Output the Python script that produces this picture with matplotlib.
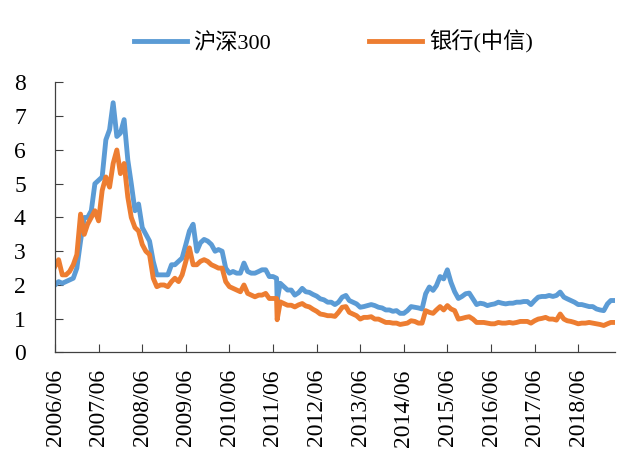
import matplotlib
matplotlib.use("Agg")
import matplotlib.pyplot as plt
import pandas as pd

plt.rcParams["font.family"] = ["Liberation Serif", "Noto Sans CJK SC", "DejaVu Sans"]

# Monthly sampling, June 2006 .. April 2019
months = pd.date_range("2006-06-01", "2019-04-01", freq="MS")

hs300 = [
    2.0, 2.1, 2.05, 2.1, 2.15, 2.2, 2.5,
    3.3, 4.0, 4.0, 4.2, 5.0, 5.1, 5.2, 6.3, 6.6, 7.4, 6.4, 6.5,
    6.9, 5.7, 5.0, 4.2, 4.4, 3.7, 3.5, 3.3, 2.7, 2.3, 2.3, 2.3,
    2.3, 2.6, 2.6, 2.7, 2.8, 3.2, 3.6, 3.8, 3.0, 3.25, 3.35, 3.3,
    3.2, 3.0, 3.05, 3.0, 2.5, 2.35, 2.4, 2.35, 2.35, 2.65, 2.4, 2.35,
    2.35, 2.4, 2.45, 2.45, 2.25, 2.25, 2.2, 2.05, 1.95, 1.85, 1.85, 1.7,
    1.77, 1.9, 1.8, 1.78, 1.72, 1.67, 1.59, 1.56, 1.49, 1.49, 1.42, 1.49,
    1.64, 1.69, 1.54, 1.49, 1.44, 1.34, 1.36, 1.39, 1.42, 1.39, 1.34, 1.32,
    1.26, 1.26, 1.22, 1.24, 1.16, 1.16, 1.24, 1.36, 1.34, 1.32, 1.29, 1.74,
    1.94, 1.84, 1.98, 2.25, 2.18, 2.45, 2.08, 1.8, 1.6, 1.66, 1.74, 1.76,
    1.59, 1.42, 1.46, 1.44, 1.39, 1.42, 1.44, 1.49, 1.46, 1.44, 1.46, 1.46,
    1.49, 1.49, 1.51, 1.51, 1.42, 1.54, 1.64, 1.66, 1.66, 1.69, 1.66, 1.69,
    1.79, 1.64, 1.59, 1.54, 1.49, 1.42, 1.42, 1.39, 1.36, 1.36, 1.29, 1.26,
    1.24, 1.44, 1.54, 1.54,
]

banks = [
    2.55, 2.75, 2.3, 2.3, 2.4, 2.6, 2.9,
    4.1, 3.5, 3.8, 4.0, 4.2, 3.9, 4.8, 5.2, 4.9, 5.6, 6.0, 5.3,
    5.6, 4.6, 4.0, 3.7, 3.6, 3.2, 3.0, 2.9, 2.2, 1.95, 2.0, 2.0,
    1.95, 2.1, 2.2, 2.1, 2.3, 2.7, 3.1, 2.6, 2.6, 2.7, 2.75, 2.7,
    2.6, 2.55, 2.5, 2.5, 2.1, 1.95, 1.9, 1.85, 1.8, 2.0, 1.75, 1.7,
    1.65, 1.7, 1.7, 1.75, 1.6, 1.6, 1.6, 1.5, 1.45, 1.4, 1.4, 1.35,
    1.41, 1.45, 1.38, 1.35, 1.28, 1.22, 1.14, 1.12, 1.09, 1.09, 1.07, 1.19,
    1.34, 1.36, 1.19, 1.14, 1.09, 0.99, 1.04, 1.04, 1.06, 0.99, 0.99, 0.94,
    0.89, 0.89, 0.87, 0.87, 0.83, 0.85, 0.87, 0.94, 0.92, 0.87, 0.87, 1.24,
    1.19, 1.16, 1.26, 1.36, 1.26, 1.39, 1.29, 1.24, 0.99, 1.01, 1.04, 1.06,
    0.99, 0.89, 0.89, 0.89, 0.87, 0.85, 0.85, 0.89, 0.87, 0.87, 0.89, 0.87,
    0.89, 0.92, 0.92, 0.92, 0.87, 0.94, 0.99, 1.01, 1.04, 0.99, 0.99, 0.96,
    1.14, 0.99, 0.94, 0.92, 0.89, 0.85, 0.87, 0.87, 0.89, 0.87, 0.85, 0.83,
    0.80, 0.85, 0.89, 0.89,
]

# One-day dip in July 2011
dip_date = pd.Timestamp("2011-07-06")
dip_hs300 = 1.55
dip_banks = 0.97

series_names = ["沪深300", "银行(中信)"]
tick_years = list(range(2006, 2019))

df = pd.DataFrame({"hs300": hs300, "banks": banks}, index=months)
df.loc[dip_date] = [dip_hs300, dip_banks]
df = df.sort_index()

fig = plt.figure(figsize=(6.23, 4.5), dpi=100)
ax = fig.add_axes([0.0883, 0.2167, 0.8988, 0.6])

ax.plot(df.index, df["hs300"], color="#5B9BD5", lw=3.5, label=series_names[0],
        solid_joinstyle="round")
ax.plot(df.index, df["banks"], color="#ED7D31", lw=3.5, label=series_names[1],
        solid_joinstyle="round")

ax.set_ylim(0, 8)
ax.set_yticks(range(0, 9))
ax.set_xlim(pd.Timestamp("2006-06-01"), pd.Timestamp("2019-04-05"))
ticks = [pd.Timestamp(f"{y}-06-01") for y in tick_years]
ax.set_xticks(ticks)
ax.set_xticklabels([f"{y}/06" for y in tick_years], rotation=90, fontsize=17)
ax.tick_params(axis="y", labelsize=17, direction="in", length=5.5, pad=21,
               width=0.8, color="#404040")
ax.tick_params(axis="x", direction="in", length=5.5, pad=12, width=0.8,
               color="#404040")

for side in ("top", "right"):
    ax.spines[side].set_visible(False)
for side in ("left", "bottom"):
    ax.spines[side].set_color("#404040")
    ax.spines[side].set_linewidth(0.9)

fig.legend(loc="center", bbox_to_anchor=(0.535, 0.907), ncol=2, frameon=False,
           fontsize=16, handlelength=2.4, handletextpad=0.3, columnspacing=4.4)

fig.savefig("out.png", dpi=100)
